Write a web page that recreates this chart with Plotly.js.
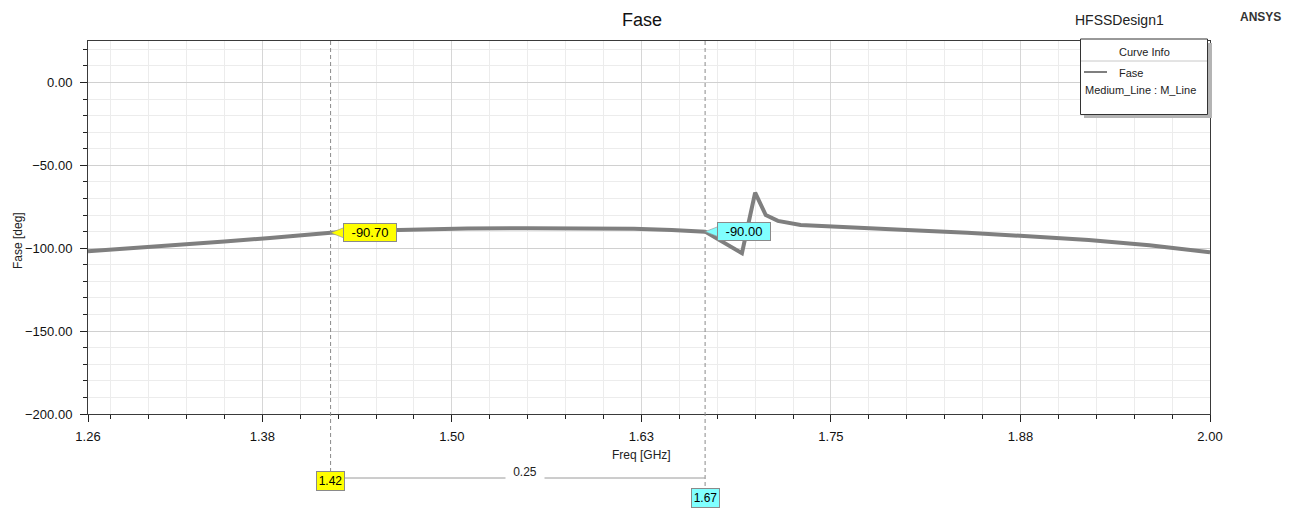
<!DOCTYPE html>
<html>
<head>
<meta charset="utf-8">
<script src="https://cdn.plot.ly/plotly-3.0.1.min.js"></script>
<style>html,body{margin:0;padding:0;background:#fff;}#chart{width:1293px;height:510px;}</style>
</head>
<body>
<div id="chart"></div>
<script>
// ---- data ----
const freqGHz = [1.26, 1.29, 1.32, 1.35, 1.38, 1.40, 1.42, 1.45, 1.48, 1.51, 1.55, 1.59, 1.62, 1.645, 1.667, 1.6913, 1.700, 1.707, 1.715, 1.73, 1.76, 1.80, 1.84, 1.88, 1.92, 1.96, 2.00];
const phaseDeg = [-101.8, -100.0, -98.0, -96.0, -93.8, -92.2, -90.7, -89.3, -88.5, -88.1, -87.9, -87.9, -88.2, -89.0, -90.0, -103.0, -66.5, -80.0, -83.5, -86.0, -87.5, -89.0, -90.6, -92.6, -95.0, -98.2, -102.5];
const markerX = [1.42, 1.667];
const markerY = [-90.70, -90.00];
const markerYText = ['-90.70', '-90.00'];
const markerXText = ['1.42', '1.67'];
const deltaText = '0.25';
const xTickVals = [1.26, 1.375, 1.5, 1.625, 1.75, 1.875, 2.0];
const xTickText = ['1.26', '1.38', '1.50', '1.63', '1.75', '1.88', '2.00'];

// ---- layout helpers (pixel -> paper) ----
const L = 88, R = 83, T = 41, B = 96, W = 1293, H = 510;
const PW = W - L - R, PH = H - T - B;
const PX = px => (px - L) / PW;
const PY = py => (H - B - py) / PH;
const FONT = 'Liberation Sans, Arial, sans-serif';
const markerColors = ['#ffff00', '#80ffff'];

const shapes = [];
const annotations = [];

// marker dashed lines
const lineBottoms = [471, 488];
markerX.forEach((mx, i) => {
  shapes.push({type: 'line', xref: 'x', yref: 'paper', x0: mx, x1: mx, y0: 1, y1: PY(lineBottoms[i]),
    line: {color: '#8a8a8a', width: 1, dash: '4px,3px'}, layer: 'above'});
  shapes.push({type: 'path', xref: 'x', yref: 'y', xsizemode: 'pixel', ysizemode: 'pixel',
    xanchor: mx, yanchor: markerY[i], path: 'M0,0 L13,5 L13,-5 Z',
    fillcolor: markerColors[i], line: {color: '#8a8a8a', width: 0.6}, layer: 'above'});
  annotations.push({x: mx, y: markerY[i], xref: 'x', yref: 'y', text: markerYText[i], showarrow: false,
    xanchor: 'left', yanchor: 'middle', xshift: 12, width: 50, height: 15, borderpad: 1,
    bgcolor: markerColors[i], bordercolor: '#8a8a8a', borderwidth: 1,
    font: {family: FONT, size: 13, color: '#000'}});
});
// bottom x-markers
const boxCenters = [481, 498];
markerX.forEach((mx, i) => {
  annotations.push({x: mx, y: PY(boxCenters[i]), xref: 'x', yref: 'paper', text: markerXText[i], showarrow: false,
    xanchor: 'center', yanchor: 'middle', width: 25, height: 16, borderpad: 1,
    bgcolor: markerColors[i], bordercolor: '#8a8a8a', borderwidth: 1,
    font: {family: FONT, size: 12, color: '#000'}});
});
// delta line
shapes.push({type: 'line', xref: 'x', yref: 'paper', x0: markerX[0], x1: markerX[1], y0: PY(478), y1: PY(478),
  line: {color: '#9a9a9a', width: 1}, layer: 'above'});
annotations.push({x: (markerX[0] + markerX[1]) / 2, y: PY(480), xref: 'x', yref: 'paper', xshift: 7,
  text: deltaText, showarrow: false, bgcolor: '#ffffff', width: 38, height: 14, borderpad: 0,
  font: {family: FONT, size: 12, color: '#222'}});

// legend box (Curve Info)
shapes.push({type: 'rect', xref: 'paper', yref: 'paper', x0: PX(1084), x1: PX(1212), y0: PY(118), y1: PY(43),
  fillcolor: '#b4b4b4', line: {width: 0}, layer: 'above'});
shapes.push({type: 'rect', xref: 'paper', yref: 'paper', x0: PX(1080.5), x1: PX(1207.5), y0: PY(114.5), y1: PY(39),
  fillcolor: '#ffffff', line: {color: '#333', width: 1}, layer: 'above'});
shapes.push({type: 'line', xref: 'paper', yref: 'paper', x0: PX(1081), x1: PX(1207), y0: PY(61), y1: PY(61),
  line: {color: '#c8c8c8', width: 1}, layer: 'above'});
shapes.push({type: 'line', xref: 'paper', yref: 'paper', x0: PX(1084), x1: PX(1107), y0: PY(72), y1: PY(72),
  line: {color: '#7f7f7f', width: 2}, layer: 'above'});
annotations.push({xref: 'paper', yref: 'paper', x: PX(1144.5), y: PY(52), text: 'Curve Info', showarrow: false,
  xanchor: 'center', yanchor: 'middle', font: {family: FONT, size: 11, color: '#222'}});
annotations.push({xref: 'paper', yref: 'paper', x: PX(1117), y: PY(73), text: 'Fase', showarrow: false,
  xanchor: 'left', yanchor: 'middle', font: {family: FONT, size: 11, color: '#222'}});
annotations.push({xref: 'paper', yref: 'paper', x: PX(1083), y: PY(90), text: 'Medium_Line : M_Line', showarrow: false,
  xanchor: 'left', yanchor: 'middle', font: {family: FONT, size: 11, color: '#222'}});

// header texts
annotations.push({xref: 'paper', yref: 'paper', x: PX(1166), y: PY(20), text: 'HFSSDesign1', showarrow: false,
  xanchor: 'right', yanchor: 'middle', font: {family: FONT, size: 14, color: '#222'}});
annotations.push({xref: 'paper', yref: 'paper', x: PX(1238), y: PY(17), text: '<b>ANSYS</b>', showarrow: false,
  xanchor: 'left', yanchor: 'middle', font: {family: FONT, size: 12, color: '#333'}});
// axis titles
annotations.push({xref: 'paper', yref: 'paper', x: PX(641), y: PY(455), text: 'Freq [GHz]', showarrow: false,
  xanchor: 'center', yanchor: 'middle', font: {family: FONT, size: 12, color: '#222'}});
annotations.push({xref: 'paper', yref: 'paper', x: PX(18), y: PY(241), text: 'Fase [deg]', showarrow: false,
  textangle: -90, xanchor: 'center', yanchor: 'middle', font: {family: FONT, size: 12, color: '#222'}});

const trace = {x: freqGHz, y: phaseDeg, type: 'scatter', mode: 'lines',
  line: {color: '#7f7f7f', width: 4}, hoverinfo: 'skip', showlegend: false};

const layout = {
  width: W, height: H,
  margin: {l: L, r: R, t: T, b: B, pad: 0},
  paper_bgcolor: '#ffffff', plot_bgcolor: '#ffffff',
  showlegend: false,
  title: {text: 'Fase', x: 642 / W, xanchor: 'center', y: 1 - 20 / H, yanchor: 'middle',
    font: {family: FONT, size: 18, color: '#111'}},
  xaxis: {
    range: [1.26, 2.0], tickmode: 'array', tickvals: xTickVals, ticktext: xTickText,
    ticks: 'outside', ticklen: 7, tickcolor: '#222', tickwidth: 1, ticklabelstandoff: 3,
    showline: true, mirror: true, linecolor: '#3a3a3a', linewidth: 1,
    showgrid: true, gridcolor: '#d6d6d6', gridwidth: 1, zeroline: false,
    tickfont: {family: FONT, size: 13, color: '#111'},
    minor: {tickmode: 'linear', tick0: 1.25, dtick: 0.025, ticks: 'outside', ticklen: 4, tickcolor: '#222',
      showgrid: true, gridcolor: '#ececec', gridwidth: 1}
  },
  yaxis: {
    range: [-200, 25], tickmode: 'linear', tick0: 0, dtick: 50, tickformat: '.2f',
    ticks: 'outside', ticklen: 7, tickcolor: '#222', tickwidth: 1, ticklabelstandoff: 5,
    showline: true, mirror: true, linecolor: '#3a3a3a', linewidth: 1,
    showgrid: true, gridcolor: '#d0d0d0', gridwidth: 1, zeroline: false,
    tickfont: {family: FONT, size: 13, color: '#111'},
    minor: {tickmode: 'linear', tick0: 0, dtick: 10, ticks: 'outside', ticklen: 4, tickcolor: '#222',
      showgrid: true, gridcolor: '#ececec', gridwidth: 1}
  },
  shapes: shapes,
  annotations: annotations
};

Plotly.newPlot('chart', [trace], layout, {staticPlot: true, displayModeBar: false});
</script>
</body>
</html>
